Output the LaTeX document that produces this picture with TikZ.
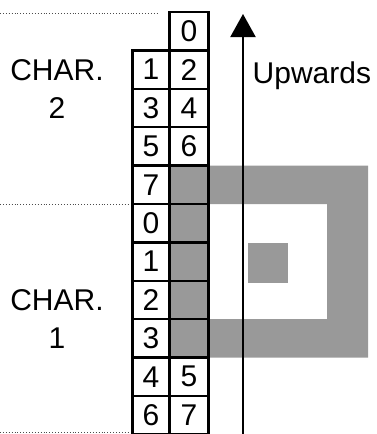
\documentclass[tikz,border=0pt]{standalone}
\usepackage{fontspec}
\setmainfont{Liberation Sans}
\usetikzlibrary{arrows.meta}
\definecolor{ringgray}{RGB}{153,153,153}
\begin{document}
\begin{tikzpicture}[x=1pt,y=-1pt,
  cellL/.style={draw=black,line width=2.5pt,fill=white,inner sep=0pt,minimum width=37pt,minimum height=38.4pt,font=\fontsize{30}{36}\selectfont},
  cellR/.style={cellL,minimum width=39pt},
  cellG/.style={cellR,fill=ringgray},
  lbl/.style={font=\fontsize{30}{38}\selectfont,align=center,inner sep=0pt},
  sep/.style={dotted,line width=0.9pt,black!70}]
\useasboundingbox (0,0) rectangle (376,434);
% separators
\coordinate (t1) at (0,13); \coordinate (t2) at (158,13);
\coordinate (m1) at (0,204); \coordinate (m2) at (128,204);
\coordinate (b1) at (0,432.5); \coordinate (b2) at (130,432.5);
\draw[sep] (t1) -- (t2);
\draw[sep] (m1) -- (m2);
\draw[sep] (b1) -- (b2);
% gray ring
\fill[ringgray,even odd rule] (169.5,165.6) rectangle (368,357.6) (208.5,204) rectangle (327,319.2);
\fill[ringgray] (248,243) rectangle (288,283);
% cells
\def\rh{38.4}
\foreach \k/\l/\r/\g in {0//0/0,1/1/2/0,2/3/4/0,3/5/6/0,4/7//1,5/0//1,6/1//1,7/2//1,8/3//1,9/4/5/0,10/6/7/0}{
  \pgfmathsetmacro{\yc}{12+\rh*(\k+0.5)}
  \ifnum\k>0
    \node[cellL] (L\k) at (151,\yc) {\l};
  \fi
  \ifnum\g=1
    \node[cellG] (R\k) at (189,\yc) {};
  \else
    \node[cellR] (R\k) at (189,\yc) {\r};
  \fi
}
% labels
\node[lbl] (c2) at (57,89) {CHAR.\\2};
\node[lbl] (c1) at (57,319) {CHAR.\\1};
\node[lbl,anchor=base west] (up) at (252.5,83) {Upwards};
% arrow
\coordinate (abot) at (243,436);
\coordinate (atop) at (243,14);
\draw[line width=2pt,-{Triangle[width=25pt,length=23pt]}] (abot) -- (atop);
\end{tikzpicture}
\end{document}
